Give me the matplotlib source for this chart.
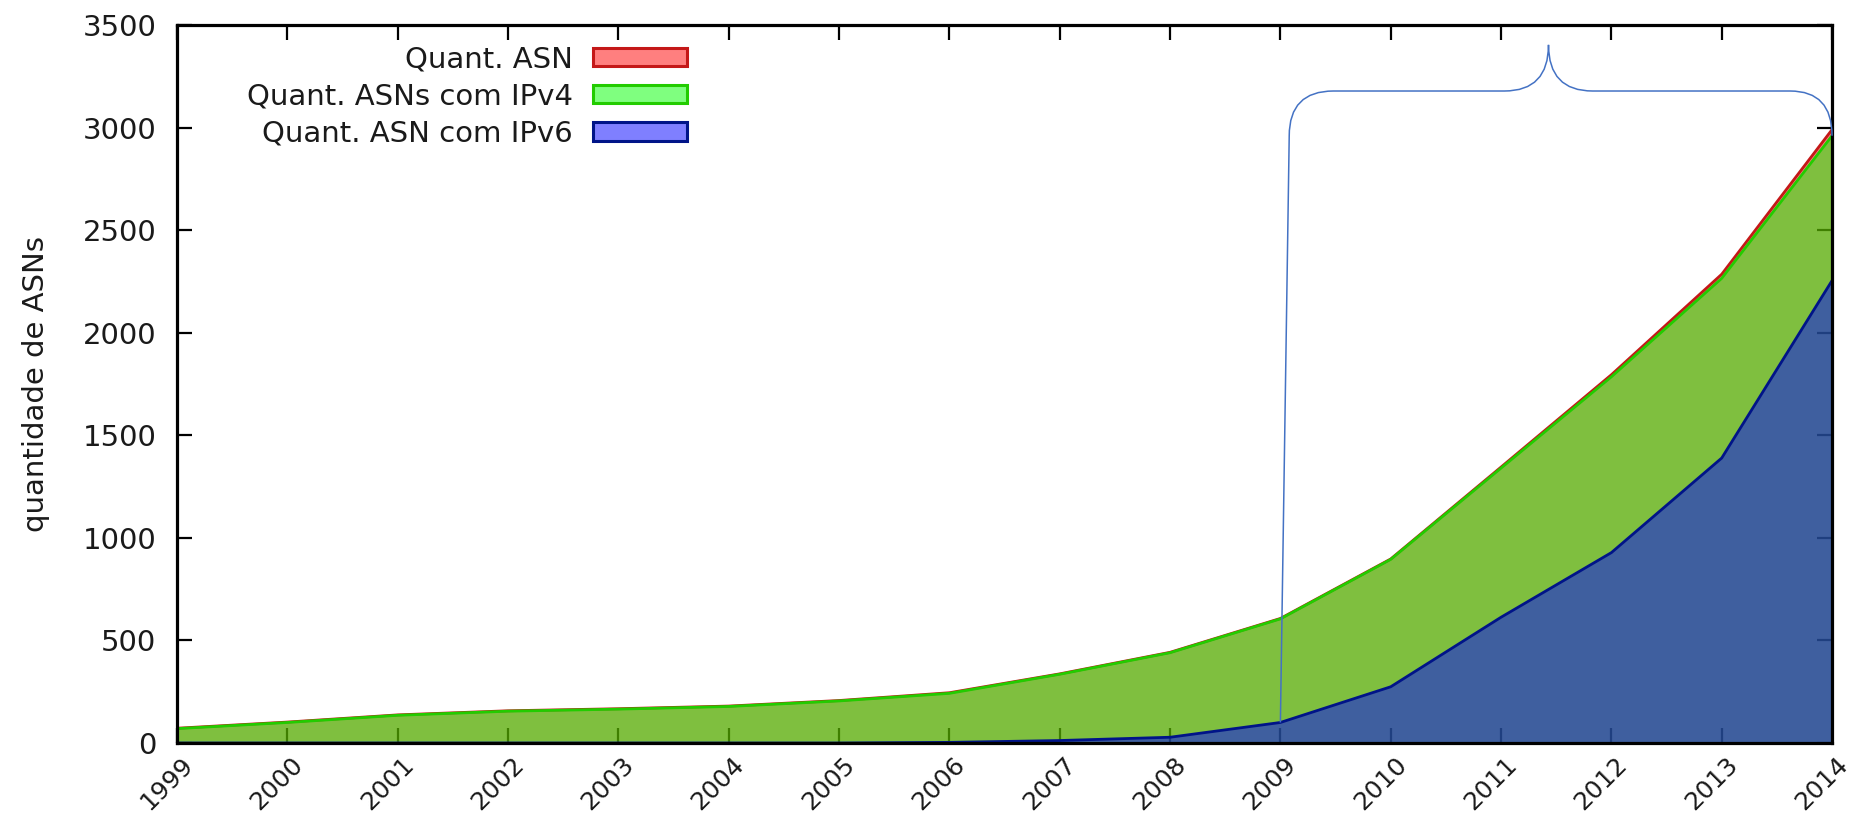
import numpy as np
import matplotlib
matplotlib.use("Agg")
import matplotlib.pyplot as plt
from matplotlib.path import Path
from matplotlib.patches import PathPatch, Patch
from matplotlib.transforms import ScaledTranslation

# data
anos = [1999, 2000, 2001, 2002, 2003, 2004, 2005, 2006,
        2007, 2008, 2009, 2010, 2011, 2012, 2013, 2014]
asn_total = [72, 102, 137, 157, 167, 180, 207, 245,
             337, 442, 607, 897, 1345, 1795, 2285, 2990]
asn_ipv4 = [70, 100, 135, 155, 165, 178, 205, 242,
            335, 440, 605, 895, 1340, 1785, 2265, 2960]
asn_ipv6 = [0, 0, 0, 0, 0, 0, 0, 3,
            12, 28, 100, 274, 613, 928, 1389, 2254]

rotulos = ["Quant. ASN", "Quant. ASNs com IPv4", "Quant. ASN com IPv6"]
y_ticks = [0, 500, 1000, 1500, 2000, 2500, 3000, 3500]

# curly brace over 2009-2014
chave_ini, chave_fim = 2009, 2014
chave_y, chave_pico = 3178, 3403

FS = 21
COR_TXT = "#1a1a1a"

fig = plt.figure(figsize=(18.56, 8.18), dpi=100)
ax = fig.add_axes([0.0954, 0.0917, 0.8917, 0.8778])

x = np.array(anos)
series = [
    (asn_total, (1, 0, 0, 0.5), "#c41818"),
    (asn_ipv4, (0, 1, 0, 0.5), "#22cc00"),
    (asn_ipv6, (0, 0, 1, 0.5), "#001488"),
]
for vals, fc, ec in series:
    ax.fill_between(x, 0, vals, facecolor=fc, edgecolor="none", zorder=1)
    ax.plot(x, vals, color=ec, lw=2.0, zorder=1.5)

ax.set_xlim(1999, 2014)
ax.set_ylim(0, 3500)
ax.set_xticks(anos)
ax.set_xticklabels([str(a) for a in anos])
ax.set_yticks(y_ticks)
ax.set_axisbelow(True)
ax.tick_params(direction="in", length=11, width=1.6, top=True, right=True,
               labelsize=FS, color="black", labelcolor=COR_TXT)
ax.tick_params(axis="y", pad=15)
ax.tick_params(axis="x", pad=13, labelsize=18)
for lab in ax.get_xticklabels():
    lab.set_rotation(45)
    lab.set_ha("right")
    lab.set_va("center")
    lab.set_rotation_mode("anchor")
    lab.set_transform(lab.get_transform() + ScaledTranslation(0.12, 0, fig.dpi_scale_trans))
for s in ax.spines.values():
    s.set_linewidth(2.3)
    s.set_color("black")
    s.set_zorder(3)

ax.set_ylabel("quantidade de ASNs", fontsize=FS, color=COR_TXT)
ax.yaxis.set_label_coords(-0.077, 0.5)

# brace
v0 = asn_ipv6[anos.index(chave_ini)]
top_v = asn_ipv4[anos.index(chave_fim)]
meio = (chave_ini + chave_fim) / 2 - 0.07
r = 0.4
verts = [
    (chave_ini, v0), (chave_ini + 0.08, top_v),
    (chave_ini + 0.08, chave_y), (chave_ini + 0.48, chave_y),
    (meio - r, chave_y),
    (meio, chave_y), (meio, chave_pico),
    (meio, chave_y), (meio + r, chave_y),
    (chave_fim - 0.38, chave_y),
    (chave_fim, chave_y), (chave_fim, top_v),
]
codes = [Path.MOVETO, Path.LINETO,
         Path.CURVE3, Path.CURVE3,
         Path.LINETO,
         Path.CURVE3, Path.CURVE3,
         Path.CURVE3, Path.CURVE3,
         Path.LINETO,
         Path.CURVE3, Path.CURVE3]
ax.add_patch(PathPatch(Path(verts, codes), fill=False, edgecolor="#4472c4",
                       lw=1.1, zorder=4, clip_on=False))

# legend, gnuplot style (text left, swatch right)
handles = [Patch(facecolor=fc, edgecolor=ec, lw=2.2) for _, fc, ec in series]
leg = ax.legend(handles, rotulos, loc="upper right", bbox_to_anchor=(0.308, 0.972),
                frameon=False, markerfirst=False, fontsize=FS, handlelength=3.2,
                handleheight=0.6, handletextpad=0.7, labelspacing=0.32,
                borderpad=0, borderaxespad=0)
for t in leg.get_texts():
    t.set_color(COR_TXT)

fig.savefig("out.png", dpi=100)
